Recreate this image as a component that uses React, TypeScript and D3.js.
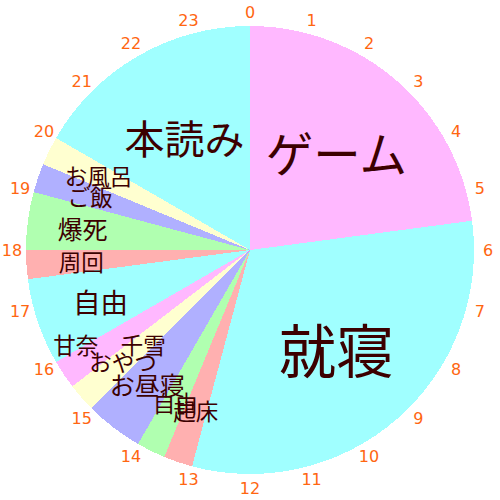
import React, { useEffect, useRef } from 'react';
import * as d3 from 'd3';

// one day, slice by slice, starting at midnight (hours)
const activities = ['ゲーム', '就寝', '起床', '自由', 'お昼寝', 'おやつ', '甘奈　千雪', '自由', '周回', '爆死', 'ご飯', 'お風呂', '本読み'];
const hours = [5.5, 7.5, 0.5, 0.5, 1, 0.5, 0.5, 1.5, 0.5, 1, 0.5, 0.5, 4];
const hourTicks = d3.range(24);

const palette = ['#ffb8ff', '#a0ffff', '#ffb0b0', '#b0ffb0', '#b0b0ff', '#ffffd0'];

const App: React.FC = () => {
  const svgRef = useRef<SVGSVGElement>(null);

  useEffect(() => {
    if (!svgRef.current) return;
    const width = 500;
    const height = 500;
    const radius = 224;

    const svg = d3.select(svgRef.current).attr('width', width).attr('height', height);
    svg.selectAll('*').remove();

    const g = svg.append('g').attr('transform', `translate(${width / 2}, ${height / 2})`);

    const total = d3.sum(hours);
    const angle = d3.scaleLinear().domain([0, total]).range([0, 2 * Math.PI]);

    const data = activities.map((name, i) => ({ name, value: hours[i], i }));
    const pie = d3.pie<typeof data[0]>().value(d => d.value).sort(null);
    const arcs = pie(data);

    // colours cycle, but the last one must not match the first slice
    const colorOf = (i: number) => {
      let c = i % palette.length;
      if (i === data.length - 1 && c === 0) c = 1;
      return palette[c];
    };

    const arc = d3.arc<d3.PieArcDatum<typeof data[0]>>().innerRadius(0).outerRadius(radius);

    g.selectAll('path.slice')
      .data(arcs)
      .join('path')
      .attr('class', 'slice')
      .attr('d', arc)
      .attr('fill', d => colorOf(d.data.i))
      .attr('shape-rendering', 'crispEdges');

    // hour numbers round the outside
    g.selectAll('text.hour')
      .data(hourTicks)
      .join('text')
      .attr('class', 'hour')
      .attr('x', d => 238 * Math.sin(angle(d)))
      .attr('y', d => -238 * Math.cos(angle(d)))
      .attr('text-anchor', 'middle')
      .attr('dominant-baseline', 'central')
      .attr('font-family', 'DejaVu Sans, Verdana, sans-serif')
      .attr('font-size', 16)
      .attr('fill', '#ff6611')
      .text(d => d);

    // bigger slices get bigger text, set closer to the middle
    const fontSize = d3.scaleLinear().domain([0, 1]).range([20, 25]);
    const labelR = d3.scaleLinear().domain([1, 1.5, 4]).range([169, 158, 131]).clamp(true);

    g.selectAll('text.label')
      .data(arcs)
      .join('text')
      .attr('class', 'label')
      .attr('x', d => labelR(d.data.value) * Math.sin((d.startAngle + d.endAngle) / 2))
      .attr('y', d => -labelR(d.data.value) * Math.cos((d.startAngle + d.endAngle) / 2))
      .attr('text-anchor', 'middle')
      .attr('dominant-baseline', 'central')
      .attr('font-family', '"Noto Sans CJK JP", sans-serif')
      .attr('font-size', d => fontSize(d.data.value))
      .attr('fill', '#3c0000')
      .text(d => d.data.name);
  }, []);

  return (
    <div style={{ position: 'fixed', left: 0, top: 0, width: 500, height: 500, background: '#fff' }}>
      <svg ref={svgRef} style={{ display: 'block' }}></svg>
    </div>
  );
};

export default App;
